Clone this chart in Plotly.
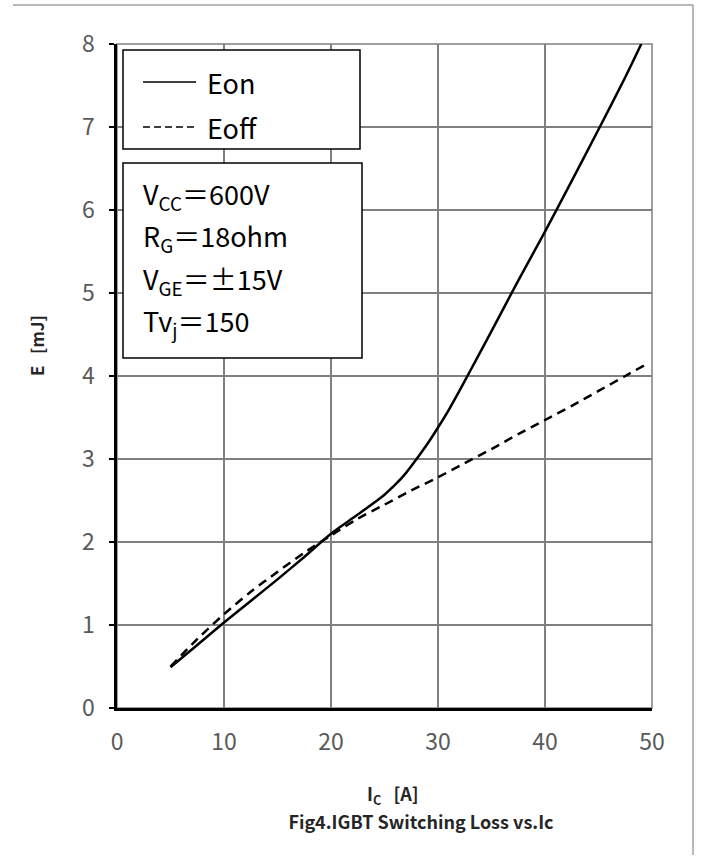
import plotly.graph_objects as go

# ---- data ----
ic_on = [5, 7.5, 10, 12.5, 15, 17.5, 20, 22.5, 25, 26, 27, 28, 29, 30, 31, 32, 33, 34, 35, 37.5, 40, 42.5, 45, 47.5, 49]
e_on = [0.49, 0.76, 1.03, 1.29, 1.55, 1.82, 2.10, 2.33, 2.57, 2.69, 2.83, 3.00, 3.18, 3.38, 3.59, 3.82, 4.06, 4.30, 4.54, 5.15, 5.74, 6.35, 6.97, 7.60, 8.0]
ic_off = [5, 7.5, 10, 12.5, 15, 17.5, 20, 22.5, 25, 27.5, 30, 32.5, 35, 37.5, 40, 42.5, 45, 47.5, 49.3]
e_off = [0.50, 0.83, 1.13, 1.40, 1.64, 1.87, 2.08, 2.28, 2.45, 2.62, 2.78, 2.95, 3.12, 3.30, 3.47, 3.64, 3.82, 4.00, 4.13]

x_ticks = [0, 10, 20, 30, 40, 50]
y_ticks = [0, 1, 2, 3, 4, 5, 6, 7, 8]
legend_names = ["Eon", "Eoff"]
cond_lines = ["V<sub>CC</sub>＝600V", "R<sub>G</sub>＝18ohm", "V<sub>GE</sub>＝±15V", "Tv<sub>j</sub>＝150"]
x_title = "<b>I<sub>C</sub>   [A]</b>"
y_title = "<b>E   [mJ]</b>"
fig_title = "<b>Fig4.IGBT Switching Loss vs.Ic</b>"

W, H = 704, 856
L, R, T, B = 117, 52, 44, 148
pw, ph = W - L - R, H - T - B

def px(x):
    return (x - L) / pw

def py(y):
    return (H - B - y) / ph

fig = go.Figure()
fig.add_trace(go.Scatter(x=ic_on, y=e_on, mode="lines", name=legend_names[0],
                         line=dict(color="black", width=2.5, shape="spline", smoothing=0.8),
                         showlegend=False))
fig.add_trace(go.Scatter(x=ic_off, y=e_off, mode="lines", name=legend_names[1],
                         line=dict(color="black", width=2.5, dash="9px,6px", shape="spline", smoothing=0.8),
                         showlegend=False))

shapes = []
# plot-area frame (grey, top/right)
shapes.append(dict(type="rect", xref="paper", yref="paper", x0=0, x1=1, y0=0, y1=1,
                   line=dict(color="#808080", width=1.5), layer="below"))
# outer figure border (top and right)
shapes.append(dict(type="line", xref="paper", yref="paper", x0=px(13), x1=px(693), y0=py(5), y1=py(5),
                   line=dict(color="#a0a0a0", width=1.5)))
shapes.append(dict(type="line", xref="paper", yref="paper", x0=px(693), x1=px(693), y0=py(5), y1=py(855),
                   line=dict(color="#a0a0a0", width=1.5)))
# legend box
shapes.append(dict(type="rect", xref="paper", yref="paper", x0=px(123), x1=px(360), y0=py(149), y1=py(50),
                   line=dict(color="black", width=1.5), fillcolor="white", layer="above"))
shapes.append(dict(type="line", xref="paper", yref="paper", x0=px(143), x1=px(196), y0=py(82), y1=py(82),
                   line=dict(color="black", width=1.5)))
shapes.append(dict(type="line", xref="paper", yref="paper", x0=px(143), x1=px(196), y0=py(127), y1=py(127),
                   line=dict(color="black", width=1.5, dash="7px,4px")))
# conditions box
shapes.append(dict(type="rect", xref="paper", yref="paper", x0=px(123), x1=px(362), y0=py(358), y1=py(163),
                   line=dict(color="black", width=1.5), fillcolor="white", layer="above"))

annotations = []
box_font = dict(family="Noto Sans CJK JP", size=27, color="black")
for name, yy in zip(legend_names, [82, 127]):
    annotations.append(dict(xref="paper", yref="paper", x=px(205), y=py(yy), text=name,
                            showarrow=False, xanchor="left", yanchor="middle", font=box_font))
for line, yy in zip(cond_lines, [195, 237, 280, 322]):
    annotations.append(dict(xref="paper", yref="paper", x=px(141), y=py(yy), text=line,
                            showarrow=False, xanchor="left", yanchor="middle", font=box_font))
# axis titles
annotations.append(dict(xref="paper", yref="paper", x=px(36), y=py(346), text=y_title, textangle=-90,
                        showarrow=False, xanchor="center", yanchor="middle",
                        font=dict(family="Noto Sans CJK SC", size=17, color="#262626")))
annotations.append(dict(xref="paper", yref="paper", x=px(393), y=py(794), text=x_title,
                        showarrow=False, xanchor="center", yanchor="middle",
                        font=dict(family="Noto Sans CJK SC", size=18, color="#262626")))

fig.update_layout(
    width=W, height=H,
    margin=dict(l=L, r=R, t=T, b=B),
    paper_bgcolor="white", plot_bgcolor="white",
    shapes=shapes, annotations=annotations,
    title=dict(text=fig_title, x=400 / W, xanchor="center", y=(H - 823) / H, yanchor="middle",
               xref="paper", font=dict(family="Noto Sans CJK SC", size=18, color="#262626")),
    xaxis=dict(range=[0, 50], tickvals=x_ticks, showgrid=True, gridcolor="#808080", gridwidth=1.5,
               zeroline=False, showline=True, linecolor="black", linewidth=2.5,
               ticks="", tickfont=dict(family="Noto Sans CJK SC", size=23, color="#595959"),
               ticklabelstandoff=12),
    yaxis=dict(range=[0, 8], tickvals=y_ticks, showgrid=True, gridcolor="#808080", gridwidth=1.5,
               zeroline=False, showline=True, linecolor="black", linewidth=2.5,
               ticks="outside", ticklen=5, tickwidth=2, tickcolor="black",
               tickfont=dict(family="Noto Sans CJK SC", size=23, color="#595959"),
               ticklabelstandoff=10),
)

fig.write_html("out.html", config={"displayModeBar": False},
               post_script="document.body.style.margin='0';document.body.style.overflow='hidden';")
